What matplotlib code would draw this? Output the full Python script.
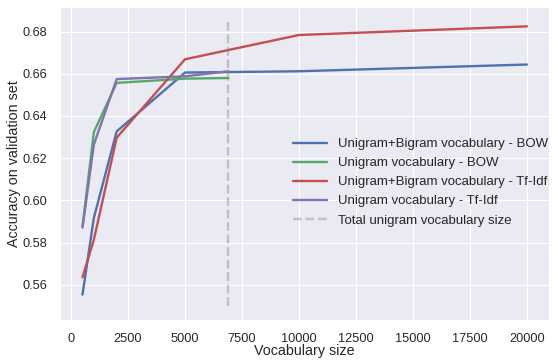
import numpy as np
import matplotlib
matplotlib.use("Agg")
import matplotlib.pyplot as plt
import seaborn as sns

# Vocabulary sizes tested
sizes_bigram = [500, 1000, 2000, 5000, 10000, 20000]
sizes_unigram = [500, 1000, 2000, 5000, 6900]
unigram_vocab_total = 6900

# Accuracy on validation set
bigram_bow = [0.5553, 0.5918, 0.6327, 0.6606, 0.6612, 0.6644]
unigram_bow = [0.5876, 0.6324, 0.6557, 0.6577, 0.6580]
bigram_tfidf = [0.5635, 0.5814, 0.6297, 0.6669, 0.6784, 0.6825]
unigram_tfidf = [0.5871, 0.6265, 0.6575, 0.6588, 0.6612]

labels = ["Unigram+Bigram vocabulary - BOW",
          "Unigram vocabulary - BOW",
          "Unigram+Bigram vocabulary - Tf-Idf",
          "Unigram vocabulary - Tf-Idf",
          "Total unigram vocabulary size"]

sns.set_style("darkgrid", {"grid.linewidth": 1.3})
plt.rcParams['font.family'] = ['Liberation Sans', 'DejaVu Sans']

fig, ax = plt.subplots(figsize=(5.53, 3.6), dpi=100)
fig.subplots_adjust(left=0.109, right=0.993, top=0.981, bottom=0.111)

lw = 1.7
ax.plot(sizes_bigram, bigram_bow, color='#4C72B0', lw=lw, label=labels[0])
ax.plot(sizes_unigram, unigram_bow, color='#55A868', lw=lw, label=labels[1])
ax.plot(sizes_bigram, bigram_tfidf, color='#C44E52', lw=lw, label=labels[2])
ax.plot(sizes_unigram, unigram_tfidf, color='#8172B2', lw=lw, label=labels[3])
ax.vlines(unigram_vocab_total, 0.55, 0.685, colors='grey', linestyles='--',
          lw=lw, alpha=0.4, label=labels[4])

ax.set_xlabel("Vocabulary size", fontsize=10.3, labelpad=-1)
ax.set_ylabel("Accuracy on validation set", fontsize=10.3, labelpad=1)
ax.tick_params(labelsize=9.2, pad=6)
ax.set_xticks(np.arange(0, 20001, 2500))

ax.legend(loc='center right', bbox_to_anchor=(1.022, 0.44), frameon=False,
          fontsize=9.5, handlelength=2.6, labelspacing=0.52, handletextpad=0.8)

fig.savefig("out.png")
